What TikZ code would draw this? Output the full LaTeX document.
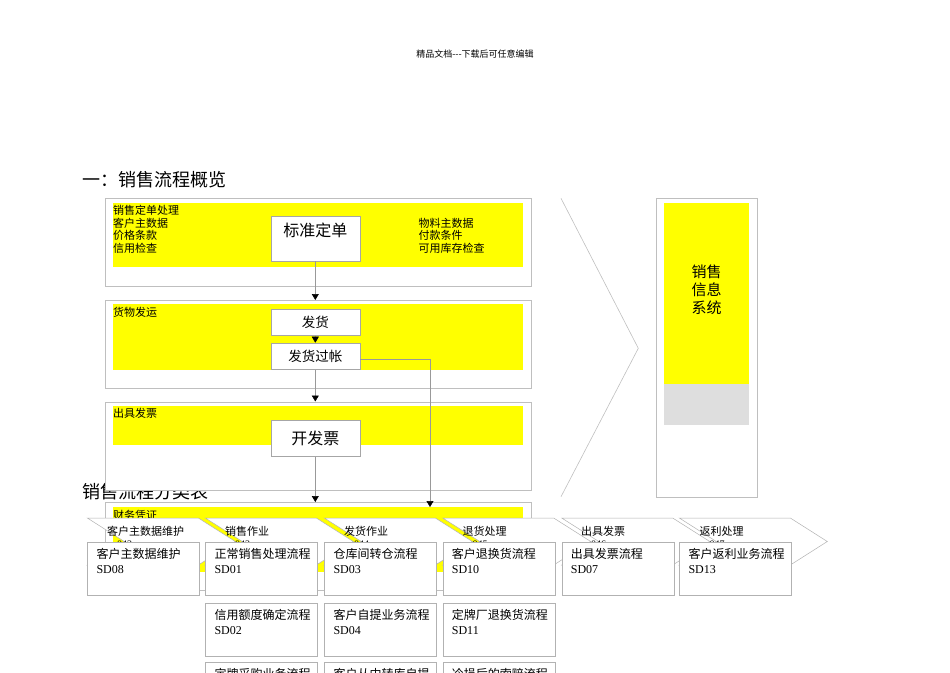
\documentclass[tikz,border=0pt]{standalone}
\usepackage{fontspec}
\setmainfont{Liberation Serif}
\newfontfamily\cjk{Noto Sans CJK SC}
\usetikzlibrary{arrows.meta}
\definecolor{bandyellow}{RGB}{255,255,0}

\tikzset{
  stageframe/.style={draw=black!25, fill=white, line width=0.7pt, minimum width=426pt, minimum height=88pt, anchor=north west, inner sep=0pt},
  band/.style={fill=bandyellow, minimum width=410pt, anchor=north west, inner sep=0pt},
  stagebox/.style={draw=black!35, fill=white, line width=0.6pt, minimum width=89pt, anchor=north west, inner sep=0pt, font=\cjk\fontsize{13.5}{15}\selectfont},
  tag/.style={anchor=west, inner sep=0pt, font=\cjk\fontsize{11}{13}\selectfont},
  heading/.style={anchor=west, inner sep=0pt, font=\cjk\fontsize{18}{20}\selectfont},
  num/.style={anchor=west, inner sep=0pt, font=\fontsize{10}{12}\selectfont},
  flow/.style={draw=black!40, line width=0.5pt, -{Triangle[length=6pt,width=7pt,color=black]}},
  chev/.style={draw=black!30, fill=white, line width=0.5pt},
  cell/.style={draw=black!30, fill=white, line width=0.7pt, minimum width=112pt, minimum height=53pt, anchor=north west, inner sep=0pt},
  celltext/.style={anchor=north west, align=left, inner xsep=9pt, inner ysep=6pt, font=\cjk\fontsize{12}{15}\selectfont}
}

\begin{document}
\begin{tikzpicture}[x=1pt,y=-1pt]
\useasboundingbox (0,0) rectangle (950,672);
\clip (0,0) rectangle (950,672);

\node[font=\cjk\fontsize{9}{11}\selectfont] (hdr) at (475,54) {精品文档---下载后可任意编辑};
\node[heading] (title1) at (82,180) {一：销售流程概览};
\node[heading] (title2) at (82,492) {销售流程分类表};

\node[stageframe] (order) at (105,198.3) {};
\node[band, minimum height=64.3pt] (orderband) at (113,202.7) {};
\node[tag] (ordertag) at (113,210.5) {销售定单处理};
\node[tag] (o1) at (113,223) {客户主数据};
\node[tag] (o2) at (113,235.5) {价格条款};
\node[tag] (o3) at (113,248.5) {信用检查};
\node[tag] (o4) at (418.5,223) {物料主数据};
\node[tag] (o5) at (418.5,235.5) {付款条件};
\node[tag] (o6) at (418.5,248.5) {可用库存检查};
\node[stagebox, minimum height=44.5pt, text height=20pt, text depth=24.5pt, font=\cjk\fontsize{16}{18}\selectfont] (std) at (270.5,216) {标准定单};

\node[stageframe] (ship) at (105,300) {};
\node[band, minimum height=65.3pt] (shipband) at (113,304) {};
\node[tag] (shiptag) at (113,312) {货物发运};
\node[stagebox, minimum height=26.3pt] (dlv) at (270.5,309) {发货};
\node[stagebox, minimum height=26.6pt] (pgi) at (270.5,342.7) {发货过帐};

\node[stageframe] (bill) at (105,401.5) {};
\node[band, minimum height=39pt] (billband) at (113,406) {};
\node[tag] (billtag) at (113,413) {出具发票};
\node[stagebox, minimum height=36.5pt, font=\cjk\fontsize{16}{18}\selectfont] (inv) at (270.5,419.5) {开发票};

\node[stageframe] (fin) at (105,502) {};
\node[band, minimum height=65pt] (finband) at (113,507) {};
\node[tag] (fintag) at (113,515) {财务凭证};

\coordinate (ret) at (430,507);
\draw[flow] (std.south) -- (std.south |- ship.north);
\draw[flow] (dlv.south) -- (pgi.north);
\draw[flow] (pgi.south) -- (pgi.south |- bill.north);
\draw[flow] ([yshift=-3pt]pgi.east) -| (ret);
\draw[flow] (inv.south) -- (inv.south |- fin.north);

\draw[draw=black!25, line width=0.6pt] (561,198.3) -- (638.3,348.3) -- (561,496.7);

\node[draw=black!25, fill=white, line width=0.7pt, minimum width=100.5pt, minimum height=299pt, anchor=north west, inner sep=0pt] (sys) at (656,198.3) {};
\node[fill=bandyellow, minimum width=84.5pt, minimum height=181.7pt, anchor=north west, inner sep=0pt] (sysband) at (664,202.3) {};
\node[fill=black!13, minimum width=84.5pt, minimum height=41pt, anchor=north west, inner sep=0pt] (sysgray) at (664,384) {};
\node[align=center, inner sep=0pt, font=\cjk\fontsize{15}{18}\selectfont] (systext) at (706.5,290) {销售\\信息\\系统};

\draw[chev] (87.3,518) -- ++(111,0) -- ++(37,23.5) -- ++(-37,23.5) -- ++(-111,0) -- ++(37,-23.5) -- cycle;
\draw[chev] (205.3,518) -- ++(111,0) -- ++(37,23.5) -- ++(-37,23.5) -- ++(-111,0) -- ++(37,-23.5) -- cycle;
\draw[chev] (324.3,518) -- ++(111,0) -- ++(37,23.5) -- ++(-37,23.5) -- ++(-111,0) -- ++(37,-23.5) -- cycle;
\draw[chev] (442.7,518) -- ++(111,0) -- ++(37,23.5) -- ++(-37,23.5) -- ++(-111,0) -- ++(37,-23.5) -- cycle;
\draw[chev] (561.7,518) -- ++(111,0) -- ++(37,23.5) -- ++(-37,23.5) -- ++(-111,0) -- ++(37,-23.5) -- cycle;
\draw[chev] (679.3,518) -- ++(111,0) -- ++(37,23.5) -- ++(-37,23.5) -- ++(-111,0) -- ++(37,-23.5) -- cycle;

\node[tag] (k1) at (107,531) {客户主数据维护};
\node[tag] (k2) at (225,531) {销售作业};
\node[tag] (k3) at (344,531) {发货作业};
\node[tag] (k4) at (462.5,531) {退货处理};
\node[tag] (k5) at (581,531) {出具发票};
\node[tag] (k6) at (699.3,531) {返利处理};
\node[num] (n1) at (117,544) {042};
\node[num] (n2) at (235,544) {043};
\node[num] (n3) at (354,544) {044};
\node[num] (n4) at (472.5,544) {045};
\node[num] (n5) at (591,544) {046};
\node[num] (n6) at (709.3,544) {047};

\node[cell] (sd08) at (87.3,542.3) {};
\node[celltext] (sd08t) at (sd08.north west) {客户主数据维护\\\rmfamily SD08};
\node[cell] (sd01) at (205.3,542.3) {};
\node[celltext] (sd01t) at (sd01.north west) {正常销售处理流程\\\rmfamily SD01};
\node[cell] (sd03) at (324.3,542.3) {};
\node[celltext] (sd03t) at (sd03.north west) {仓库间转仓流程\\\rmfamily SD03};
\node[cell] (sd10) at (442.7,542.3) {};
\node[celltext] (sd10t) at (sd10.north west) {客户退换货流程\\\rmfamily SD10};
\node[cell] (sd07) at (561.7,542.3) {};
\node[celltext] (sd07t) at (sd07.north west) {出具发票流程\\\rmfamily SD07};
\node[cell] (sd13) at (679.3,542.3) {};
\node[celltext] (sd13t) at (sd13.north west) {客户返利业务流程\\\rmfamily SD13};

\node[cell] (sd02) at (205.3,603.3) {};
\node[celltext] (sd02t) at (sd02.north west) {信用额度确定流程\\\rmfamily SD02};
\node[cell] (sd04) at (324.3,603.3) {};
\node[celltext] (sd04t) at (sd04.north west) {客户自提业务流程\\\rmfamily SD04};
\node[cell] (sd11) at (442.7,603.3) {};
\node[celltext] (sd11t) at (sd11.north west) {定牌厂退换货流程\\\rmfamily SD11};

\node[cell] (r31) at (205.3,661.7) {};
\node[celltext] (r31t) at (r31.north west) {定牌采购业务流程};
\node[cell] (r32) at (324.3,661.7) {};
\node[celltext] (r32t) at (r32.north west) {客户从中转库自提};
\node[cell] (r33) at (442.7,661.7) {};
\node[celltext] (r33t) at (r33.north west) {冷损后的索赔流程};
\end{tikzpicture}
\end{document}
